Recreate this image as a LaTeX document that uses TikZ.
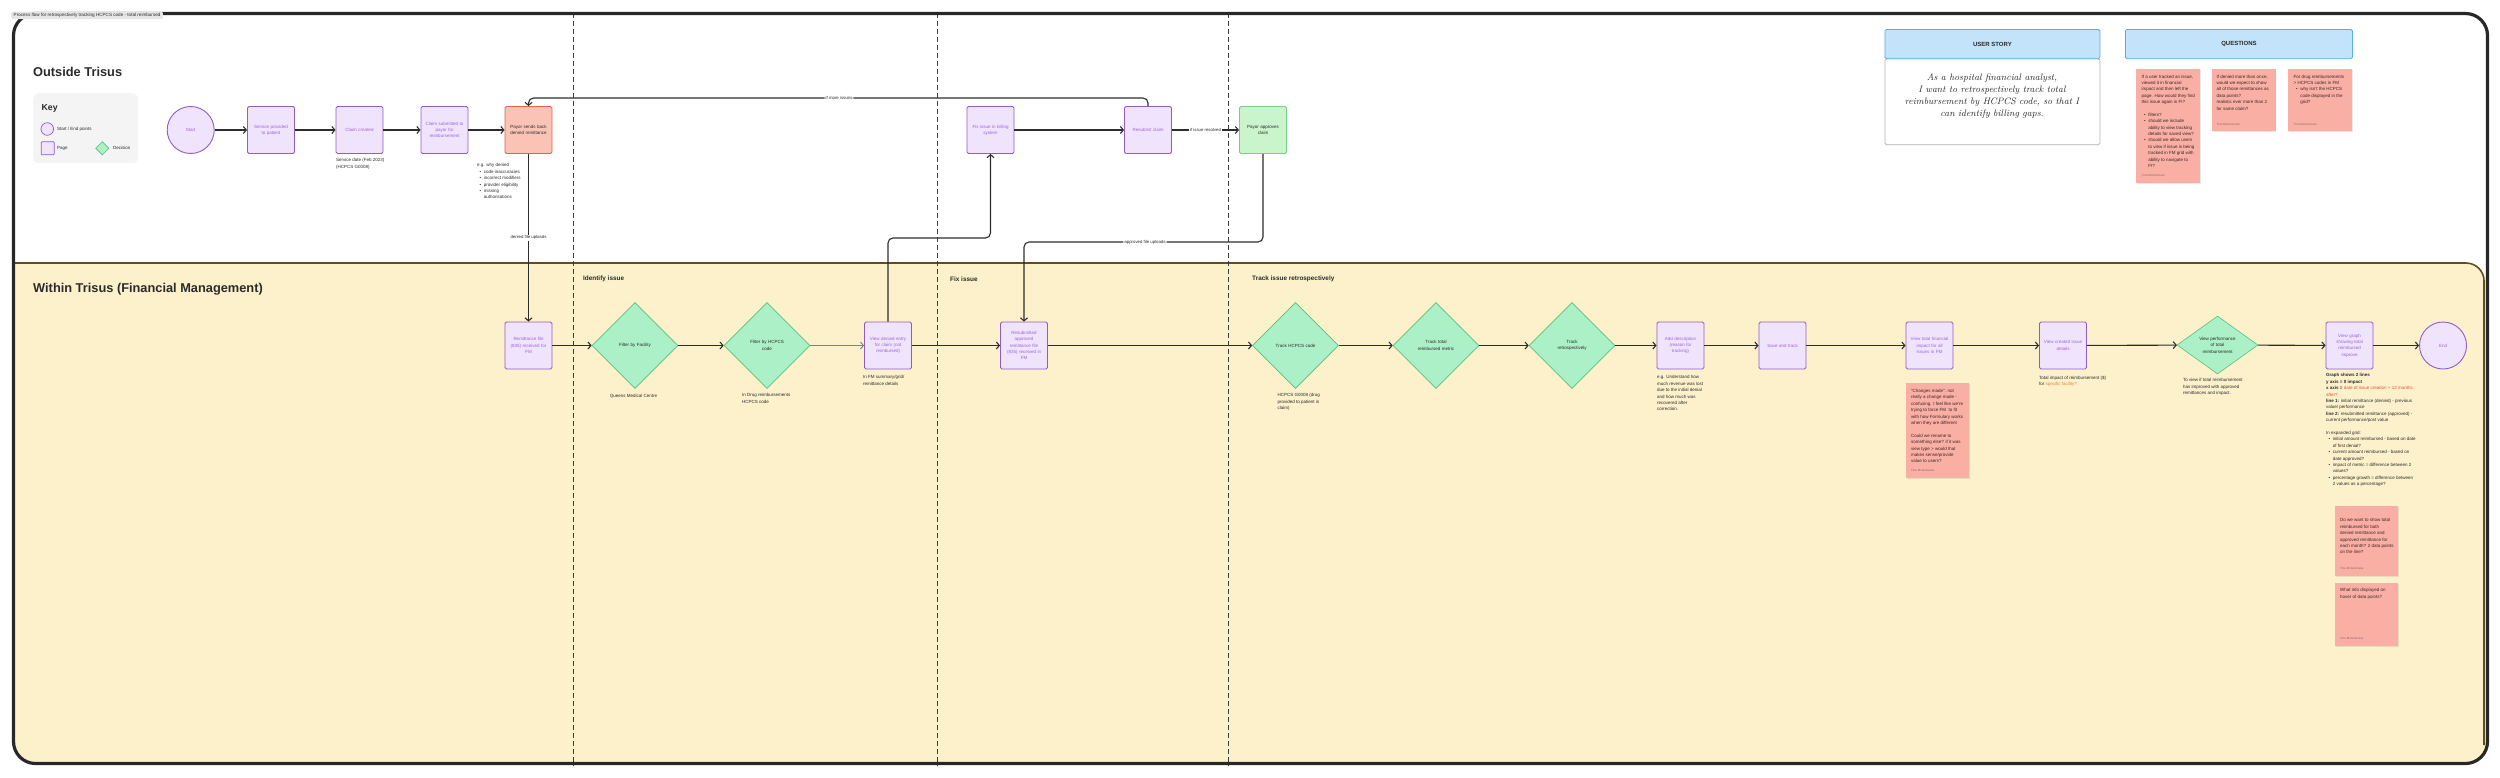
\documentclass[tikz,border=0pt]{standalone}
\usepackage{fontspec}
\setsansfont{Liberation Sans}
\usetikzlibrary{arrows.meta,shapes.geometric,shadows}
\definecolor{pfill}{HTML}{F0E4FC}
\definecolor{pborder}{HTML}{8E5CCB}
\definecolor{ptext}{HTML}{9A63DA}
\definecolor{gfill}{HTML}{ABF0C6}
\definecolor{gborder}{HTML}{5DBE7E}
\definecolor{afill}{HTML}{C9F4CC}
\definecolor{aborder}{HTML}{74D184}
\definecolor{rfill}{HTML}{FBC3B6}
\definecolor{rborder}{HTML}{DE644C}
\definecolor{stk}{HTML}{FAAFA5}
\definecolor{stktext}{HTML}{3B2623}
\definecolor{ybg}{HTML}{FDF1CB}
\definecolor{oliv}{HTML}{5C5021}
\definecolor{framec}{HTML}{272727}
\definecolor{keyc}{HTML}{F4F4F4}
\definecolor{tabc}{HTML}{E6E6E6}
\definecolor{bfill}{HTML}{C3E3FA}
\definecolor{bborder}{HTML}{58ABE8}
\definecolor{dashc}{HTML}{3C3C3C}
\definecolor{linec}{HTML}{2D2D2D}
\definecolor{redt}{HTML}{E5503A}
\definecolor{orat}{HTML}{E97A4A}
\definecolor{txt}{HTML}{2A2A2A}
\definecolor{authc}{HTML}{8A6A66}
\newcommand\myfs[2]{\fontsize{#1}{#2}\selectfont}
\newcommand\bul{\hspace*{2.5pt}\textbullet\hspace{2.5pt}}
\newcommand\bulc{\hspace*{6.6pt}}
\begin{document}
\begin{tikzpicture}[x=1pt,y=-1pt,
  every node/.style={font=\sffamily\myfs{4.5}{6.4}, text=txt},
  pbox/.style={draw=pborder, fill=pfill, line width=0.9pt, rounded corners=1.5pt, minimum width=47pt, minimum height=47pt, inner sep=1pt, text width=43pt, align=center, text=ptext, font=\sffamily\myfs{4.5}{6.3}},
  pred/.style={pbox, draw=rborder, fill=rfill, text=txt},
  pgreen/.style={pbox, draw=aborder, fill=afill, text=txt},
  term/.style={circle, draw=pborder, fill=pfill, line width=0.9pt, minimum size=47pt, inner sep=0pt, text=ptext},
  dmd/.style={diamond, aspect=1, draw=gborder, fill=gfill, line width=0.6pt, minimum width=86pt, minimum height=86pt, inner sep=0pt, text width=44pt, align=center, text=txt},
  notetxt/.style={anchor=north west, align=left, inner sep=0pt},
  lbl/.style={fill=white, inner sep=1.2pt, text=txt, font=\sffamily\myfs{4.3}{5}},
  arr/.style={draw=linec, line width=1.1pt, -{Straight Barb[length=3pt,width=7pt,line width=1.1pt]}},
  arrthin/.style={draw=gray, line width=0.7pt, -{Straight Barb[length=3pt,width=7pt,line width=0.9pt]}},
  sticky/.style={fill=stk, anchor=north west, inner sep=0pt, drop shadow={shadow xshift=0.6pt, shadow yshift=-1.2pt, opacity=0.18}},
  stxt/.style={anchor=north west, align=left, inner sep=0pt, text=stktext},
  auth/.style={anchor=west, inner sep=0pt, text=authc, font=\sffamily\myfs{3}{3.5}},
  sechead/.style={anchor=west, inner sep=0pt, font=\sffamily\bfseries\myfs{6.4}{7}},
  bighead/.style={anchor=west, inner sep=0pt, font=\sffamily\bfseries\myfs{12.8}{14}},
  divider/.style={draw=dashc, line width=1pt, dash pattern=on 5pt off 3pt},
  hdr/.style={draw=bborder, fill=bfill, line width=0.8pt, rounded corners=1.5pt, minimum height=29.3pt, anchor=north west, inner sep=0pt, font=\sffamily\bfseries\myfs{6}{7}}
]
\useasboundingbox (0,0) rectangle (2500,777);
% background regions
\fill[ybg] (13,263) -- (2466,263) to[out=0,in=90] (2486,283) -- (2486,743) to[out=-90,in=0] (2466,763) -- (33,763) to[out=180,in=-90] (13,743) -- cycle;
\draw[oliv, line width=1.6pt] (13,263) -- (2466,263) to[out=0,in=90] (2484,281) -- (2484,745);
\draw[divider] (573,13) -- (573,766);
\draw[divider] (937,13) -- (937,766);
\draw[divider] (1228,13) -- (1228,766);
\draw[framec, line width=3.2pt, rounded corners=22pt] (13.5,13.5) rectangle (2487.5,763.5);
\node[fill=tabc, rounded corners=2pt, anchor=north west, inner xsep=2.5pt, inner ysep=1.6pt, font=\sffamily\myfs{4.6}{5}] (title) at (11,11.5) {Process flow for retrospectively tracking HCPCS code - total reimbursed};

% headings
\node[bighead] (hout) at (33,72) {Outside Trisus};
\node[bighead] (hin) at (33,289) {Within Trisus (Financial Management)};
\node[sechead] (hid) at (583,279) {Identify issue};
\node[sechead] (hfix) at (950,279) {Fix issue};
\node[sechead] (htr) at (1252,279) {Track issue retrospectively};

% key
\node[fill=keyc, rounded corners=6pt, minimum width=105pt, minimum height=70pt, anchor=north west, inner sep=0pt] (keybox) at (33,93) {};
\node[anchor=west, inner sep=0pt, font=\sffamily\bfseries\myfs{8.7}{10}] (keyt) at (41.5,108) {Key};
\node[term, minimum size=12.6pt, line width=0.7pt] (kc) at (47.3,129) {};
\node[anchor=west, inner sep=0pt] (kct) at (57,129) {Start / End points};
\node[draw=pborder, fill=pfill, line width=0.7pt, minimum size=13pt, inner sep=0pt, rounded corners=0.8pt] (kp) at (47.7,148.3) {};
\node[anchor=west, inner sep=0pt] (kpt) at (57,148.3) {Page};
\node[diamond, draw=gborder, fill=gfill, line width=0.6pt, minimum size=13.5pt, inner sep=0pt] (kd) at (102.3,148.3) {};
\node[anchor=west, inner sep=0pt] (kdt) at (113,148.3) {Decision};

% user story & questions
\node[draw=gray!60, fill=white, line width=0.8pt, rounded corners=1.5pt, minimum width=215pt, minimum height=86pt, anchor=north west, inner sep=0pt] (usb) at (1884.5,58.3) {};
\node[hdr, minimum width=215pt] (ush) at (1884.5,29) {USER STORY};
\node[align=center, inner sep=0pt, font=\rmfamily\itshape\myfs{9.4}{12}, text=txt] (ust) at (1992,96.3) {As a hospital financial analyst,\\I want to retrospectively track total\\reimbursement by HCPCS code, so that I\\can identify billing gaps.};
\node[hdr, minimum width=227pt] (qh) at (2125,29) {QUESTIONS};

\node[sticky, minimum width=64pt, minimum height=114pt] (q1) at (2136,68.3) {};
\node[stxt] (q1t) at (2141.5,74.6) {If a user tracked an issue,\\viewed it in financial\\impact and then left the\\page. How would they find\\this issue again in FI?\\[6.3pt]\bul filters?\\\bul should we include\\\bulc ability to view tracking\\\bulc details for saved view?\\\bul should we allow users\\\bulc to view if issue is being\\\bulc tracked in FM grid with\\\bulc ability to navigate to\\\bulc FI?};
\node[auth] (q1a) at (2141.5,175) {Tina McGuinness};
\node[sticky, minimum width=63.5pt, minimum height=62.7pt] (q2) at (2212,68.3) {};
\node[stxt] (q2t) at (2216.5,74.6) {If denied more than once,\\would we expect to show\\all of those remittances as\\data points?\\realistic ever more than 2\\for same claim?};
\node[auth] (q2a) at (2216.5,124.3) {Tina McGuinness};
\node[sticky, minimum width=64pt, minimum height=62.7pt] (q3) at (2288,68.3) {};
\node[stxt] (q3t) at (2293.5,74.6) {For drug reimbursements\\> HCPCS codes in FM\\\bul why isn't the HCPCS\\\bulc code displayed in the\\\bulc grid?};
\node[auth] (q3a) at (2293.5,124.3) {Tina McGuinness};

% top row
\node[term] (start) at (190.7,130) {Start};
\node[pbox] (svc) at (271,130) {Service provided\\to patient};
\node[pbox] (cc) at (359.5,130) {Claim created};
\node[pbox] (csub) at (444.5,130) {Claim submitted to\\payor for\\reimbursement};
\node[pred] (payor) at (528.5,130) {Payor sends back\\denied remittance};
\node[pbox] (fix) at (990.5,130) {Fix issue in billing\\system};
\node[pbox] (resub) at (1148,130) {Resubmit claim};
\node[pgreen] (pa) at (1263,130) {Payor approves\\claim};
\node[notetxt] (ncc) at (336,158.5) {Service date (Feb 2023)\\(HCPCS G0008)};
\node[notetxt] (npay) at (477,163.5) {e.g. why denied\\\bul code inaccuracies\\\bul incorrect modifiers\\\bul provider eligibility\\\bul missing\\\bulc authorisations};

% lower row
\node[pbox] (remit) at (528.5,345.5) {Remittance file\\(835) received for\\FM};
\node[dmd] (ff) at (635,345.5) {Filter by Facility};
\node[dmd] (fh) at (767,345.5) {Filter by HCPCS\\code};
\node[pbox] (vde) at (888,345.5) {View denied entry\\for claim (not\\reimbursed)};
\node[pbox] (rsub) at (1024,345.5) {Resubmitted\\approved\\remittance file\\(835) received in\\FM};
\node[dmd] (th) at (1295.5,345.5) {Track HCPCS code};
\node[dmd] (tt) at (1436,345.5) {Track total\\reimbursed metric};
\node[dmd] (tr) at (1572,345.5) {Track\\retrospectively};
\node[pbox] (ad) at (1680.5,345.5) {Add description\\(reason for\\tracking)};
\node[pbox] (st) at (1782.5,345.5) {Save and track};
\node[pbox] (vt) at (1929.5,345.5) {View total financial\\impact for all\\issues in FM};
\node[pbox] (vc) at (2063,345.5) {View created issue\\details};
\node[dmd, minimum width=81pt, minimum height=58pt, aspect=1.4, text width=38pt] (vp) at (2217.5,345) {View performance\\of total\\reimbursement};
\node[pbox] (vg) at (2349.5,345.5) {View graph\\showing total\\reimbursed\\improve};
\node[term] (en) at (2443,345.5) {End};

\node[inner sep=0pt] (nff) at (633.5,396) {Queens Medical Centre};
\node[notetxt] (nfh) at (742,393.5) {In Drug reimbursements\\HCPCS code};
\node[notetxt] (nvde) at (863,375.5) {In FM summary/grid/\\remittance details};
\node[notetxt] (nth) at (1277.5,393.5) {HCPCS G0008 (drug\\provided to patient in\\claim)};
\node[notetxt] (nad) at (1657,375.5) {e.g. Understand how\\much revenue was lost\\due to the initial denial\\and how much was\\recovered after\\correction.};
\node[notetxt] (nvc) at (2039,375.5) {Total impact of reimbursement (\$)\\for \textcolor{orat}{specific facility?}};
\node[notetxt] (nvp) at (2183,378.5) {To view if total reimbursement\\has improved with approved\\remittances and impact.};
\node[notetxt] (nvg) at (2326,373.5) {\textbf{Graph shows 2 lines}\\\textbf{y axis = \$ impact}\\\textbf{x axis =} \textcolor{redt}{date of issue creation + 12 months}\\\textcolor{redt}{after?}\\\textbf{line 1:} initial remittance (denied) - previous\\value/ performance\\\textbf{line 2:} resubmitted remittance (approved) -\\current performance/post value\\[6.4pt]In expanded grid:\\\bul initial amount reimbursed - based on date\\\bulc of first denial?\\\bul current amount reimbursed - based on\\\bulc date approved?\\\bul impact of metric = difference between 2\\\bulc values?\\\bul percentage growth = difference between\\\bulc 2 values as a percentage?};

% sticky notes in lower area
\node[sticky, minimum width=63pt, minimum height=95pt] (svt) at (1906,383) {};
\node[stxt] (svtt) at (1911,389) {“Changes made”: not\\really a change made -\\confusing. I feel like we're\\trying to force FM\ \ to fit\\with how Formulary works\\when they are different\\[6.4pt]Could we rename to\\something else? if it was\\view type > would that\\makes sense/provide\\value to users?};
\node[auth] (svta) at (1911,470.7) {Tina McGuinness};
\node[sticky, minimum width=63pt, minimum height=70pt] (sg1) at (2335,506) {};
\node[stxt] (sg1t) at (2340,518.5) {Do we want to show total\\reimbursed for both\\denied remittance and\\approved remittance for\\each month? 2 data points\\on the line?};
\node[auth] (sg1a) at (2340,568.3) {Tina McGuinness};
\node[sticky, minimum width=63pt, minimum height=63pt] (sg2) at (2335,583) {};
\node[stxt] (sg2t) at (2340,588.5) {What info displayed on\\hover of data points?};
\node[auth] (sg2a) at (2340,638.3) {Tina McGuinness};

% connectors: top row
\draw[arr] (start) -- (svc);
\draw[arr] (svc) -- (cc);
\draw[arr] (cc) -- (csub);
\draw[arr] (csub) -- (payor);
\draw[arr] (fix) -- (resub);
\draw[arr] (resub) -- (pa) node[midway, lbl] {if issue resolved};
\coordinate (k3) at (839,98);
\draw[arr, rounded corners=5pt] (resub.north) |- (k3) node[lbl] {if more issues} -| (payor.north);
\draw[arr] (payor.south) -- (remit.north) node[midway, lbl] {denied file uploads};
\coordinate (k1) at (940,238);
\draw[arr, rounded corners=5pt] (vde.north) |- (k1) -| (fix.south);
\coordinate (k2) at (1145,242);
\draw[arr, rounded corners=5pt] (pa.south) |- (k2) node[lbl] {approved file uploads} -| (rsub.north);

% connectors: lower row
\draw[arr] (remit) -- (ff);
\draw[arr] (ff) -- (fh);
\draw[arrthin] (fh) -- (vde);
\draw[arr] (vde) -- (rsub);
\draw[arr] (rsub) -- (th);
\draw[arr] (th) -- (tt);
\draw[arr] (tt) -- (tr);
\draw[arr] (tr) -- (ad);
\draw[arr] (ad) -- (st);
\draw[arr] (st) -- (vt);
\draw[arr] (vt) -- (vc);
\draw[arr] (vc) -- (vp);
\draw[arr] (vp) -- (vg);
\draw[arr] (vg) -- (en);
\end{tikzpicture}
\end{document}
